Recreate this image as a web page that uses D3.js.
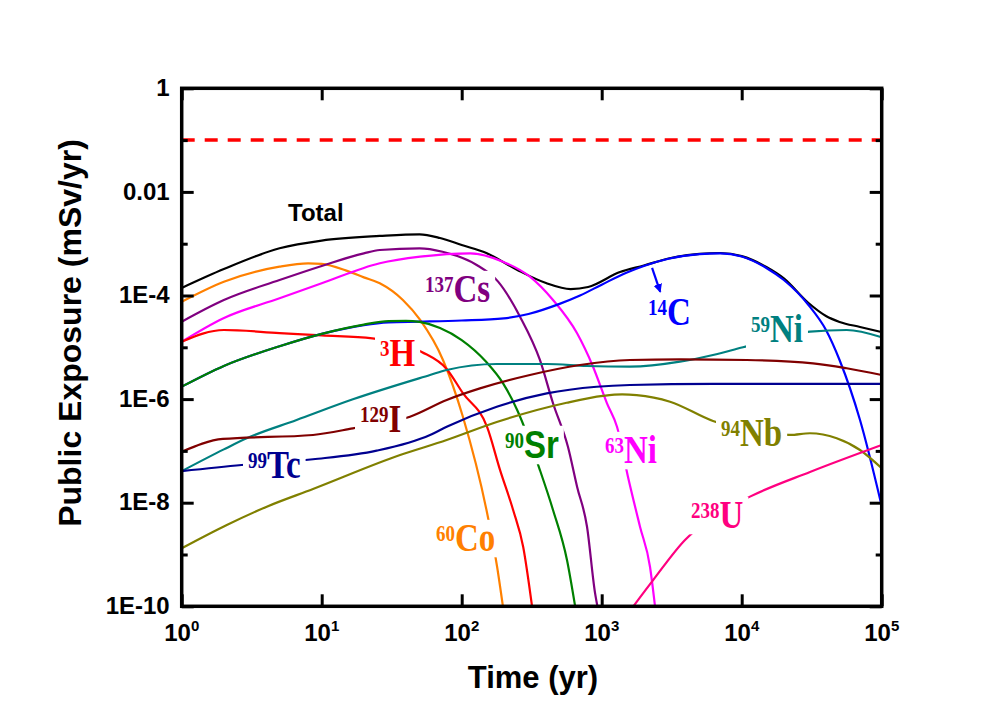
<!DOCTYPE html>
<html><head><meta charset="utf-8">
<script src="https://cdn.jsdelivr.net/npm/d3@7"></script>
<style>body{margin:0;background:#fff;} svg{display:block;}</style>
</head><body>
<svg id="chart" width="986" height="728"></svg>
<script>
// ---- data (time in yr, public exposure in mSv/yr) ----
const tTotal = [1,2,5,10,26,50,70,100,150,250,400,600,800,1350,2000,3000,5000,7000,1e4,1.5e4,2e4,3e4,4e4,5e4,7e4,1e5];
const vTotal = [1.40e-4,3.24e-4,8.15e-4,1.15e-3,1.41e-3,1.52e-3,1.29e-3,9.44e-4,6.61e-4,3.10e-4,1.74e-4,1.33e-4,1.46e-4,2.84e-4,3.80e-4,5.19e-4,6.38e-4,6.61e-4,5.75e-4,3.55e-4,2.14e-4,7.16e-5,4.02e-5,3.09e-5,2.47e-5,1.97e-5];

const tC14 = [1,2,5,10,20,30,50,100,200,300,500,700,1000,1500,2000,3000,5000,7000,1e4,1.5e4,2e4,3e4,4e4,5e4,7e4,1e5];
const vC14 = [1.74e-6,4.37e-6,1.05e-5,1.82e-5,2.69e-5,3.02e-5,3.12e-5,3.29e-5,3.63e-5,4.40e-5,6.9e-5,1.0e-4,1.62e-4,2.75e-4,3.72e-4,5.13e-4,6.31e-4,6.53e-4,5.66e-4,3.40e-4,1.99e-4,6.56e-5,2.16e-5,5.69e-6,3.95e-7,8.63e-9];

const tCs137 = [1,2,5,10,20,26,50,73,128,182,261,362,449,574,667,785,896,932];
const vCs137 = [3.12e-5,8.18e-5,1.99e-4,3.72e-4,6.52e-4,7.55e-4,8.15e-4,7.0e-4,3.88e-4,1.85e-4,3.90e-5,5.69e-6,8.32e-7,1.20e-7,2.04e-8,3.47e-9,1.82e-10,1.0e-10];

const tCo60 = [1,2,5,8,10,15,20,26,38,50.5,73.5,102,152,179,197];
const vCo60 = [7.59e-5,1.85e-4,3.60e-4,4.17e-4,4.07e-4,3.02e-4,2.24e-4,1.72e-4,8.18e-5,3.37e-5,5.69e-6,4.57e-7,6.24e-9,5.81e-10,1.0e-10];

const tH3 = [1,2,5,10,23,51.8,78.3,102,152,188,233,275,318];
const vH3 = [1.28e-5,2.16e-5,1.88e-5,1.70e-5,1.49e-5,8.13e-6,3.78e-6,1.30e-6,2.87e-7,4.25e-8,7.24e-9,1.40e-9,1.0e-10];

const tSr90 = [1,2,5,10,20,30,40,50,70,100,150,197,249,300,362,449,565,646];
const vSr90 = [1.74e-6,4.37e-6,1.05e-5,1.82e-5,2.75e-5,3.20e-5,3.24e-5,3.09e-5,2.36e-5,1.38e-5,5.20e-6,2.04e-6,6.17e-7,1.78e-7,4.27e-8,7.24e-9,7.83e-10,1.0e-10];

const tNi63 = [1,1.97,5,10,26,50.5,115,197,307,449,667,867,1091,1286,1540,1878,2213,2404];
const vNi63 = [1.28e-5,3.61e-5,8.83e-5,1.72e-4,4.19e-4,5.62e-4,6.53e-4,4.50e-4,2.31e-4,8.18e-5,1.86e-5,4.22e-6,8.30e-7,2.93e-7,3.18e-8,3.44e-9,5.81e-10,1.0e-10];

const tNi59 = [1,2,2.91,6.62,16.7,59.4,78.1,178,405,781,1592,3622,6237,10210,30740,56230,1e5];
const vNi59 = [4.07e-8,1.07e-7,1.75e-7,3.95e-7,9.91e-7,2.92e-6,3.65e-6,4.76e-6,4.76e-6,4.36e-6,4.22e-6,5.27e-6,7.10e-6,1.0e-5,2.0e-5,2.16e-5,1.56e-5];

const tI129 = [1,1.97,8.67,16.7,42.7,78.1,135,307,700,1592,3622,10860,32300,56230,1e5];
const vI129 = [9.64e-8,1.70e-7,2.03e-7,2.73e-7,4.57e-7,9.62e-7,1.61e-6,2.92e-6,4.55e-6,5.69e-6,5.86e-6,5.69e-6,4.91e-6,3.94e-6,2.92e-6];

const tTc99 = [1,2.68,8.67,24.7,59.4,78.1,178,405,921,1592,6237,1e5];
const vTc99 = [4.07e-8,5.35e-8,6.89e-8,1.01e-7,2.03e-7,2.93e-7,7.13e-7,1.29e-6,1.73e-6,1.87e-6,1.96e-6,1.96e-6];

const tNb94 = [1,2.1,4.05,8.67,36.3,78.1,178,562,1021,1400,1778,3076,6237,22130,30740,47700,70000,1e5];
const vNb94 = [1.32e-9,3.72e-9,8.38e-9,1.84e-8,8.32e-8,1.62e-7,3.61e-7,8.5e-7,1.15e-6,1.23e-6,1.19e-6,8.91e-7,3.78e-7,2.03e-7,2.19e-7,1.75e-7,1.04e-7,4.61e-8];

const tU238 = [1682,2337,3936,6000,11460,30740,1e5];
const vU238 = [1.0e-10,3.24e-10,1.91e-9,5.0e-9,1.31e-8,3.92e-8,1.30e-7];

const limitValue = 0.1;
const yMajorTicks = [1,1e-2,1e-4,1e-6,1e-8,1e-10];
const yMinorTicks = [1e-1,1e-3,1e-5,1e-7,1e-9];
const xTicks = [1,10,100,1000,1e4,1e5];
const xTickExp = ["0","1","2","3","4","5"];
const yTickLabels = ["1","0.01","1E-4","1E-6","1E-8","1E-10"];

const series = [
  {t:tTotal, v:vTotal, color:"#000000"},
  {t:tCo60, v:vCo60, color:"#FF8000"},
  {t:tCs137, v:vCs137, color:"#800080"},
  {t:tNi63, v:vNi63, color:"#FF00FF"},
  {t:tH3, v:vH3, color:"#FF0000"},
  {t:tC14, v:vC14, color:"#0000FF"},
  {t:tSr90, v:vSr90, color:"#008000"},
  {t:tNi59, v:vNi59, color:"#008080"},
  {t:tI129, v:vI129, color:"#800000"},
  {t:tTc99, v:vTc99, color:"#000090"},
  {t:tNb94, v:vNb94, color:"#808000"},
  {t:tU238, v:vU238, color:"#FF0080"}
];

// ---- layout ----
const L = 181.7, R = 881.7, T = 88.3, B = 606.3;
const svg = d3.select("#chart");
const x = d3.scaleLog().domain([1,1e5]).range([L,R]);
const y = d3.scaleLog().domain([1e-10,1]).range([B,T]);

svg.append("defs").append("clipPath").attr("id","plotclip")
  .append("rect").attr("x",L).attr("y",T).attr("width",R-L).attr("height",B-T);

const plot = svg.append("g").attr("clip-path","url(#plotclip)");

// limit line
plot.append("line").attr("x1",L).attr("x2",R).attr("y1",y(limitValue)).attr("y2",y(limitValue))
  .attr("stroke","#FF0000").attr("stroke-width",3.5).attr("stroke-dasharray","13,10");

const line = d3.line().x(d=>x(d[0])).y(d=>y(d[1])).curve(d3.curveMonotoneX);
series.forEach(s=>{
  const pts = s.t.map((t,i)=>[t,s.v[i]]);
  plot.append("path").datum(pts).attr("d",line).attr("fill","none")
    .attr("stroke",s.color).attr("stroke-width",2.2).attr("stroke-linejoin","round");
});

// ---- labels ----
const SERIF = "'Liberation Serif','Times New Roman',serif";
const SANS = "'Liberation Sans',Arial,sans-serif";
function addLabel(px, py, sup, main, color, mainFamily){
  const g = svg.append("g").attr("transform",`translate(${px},${py}) scale(1,1.2)`);
  const t = g.append("text").attr("font-weight","bold").attr("fill",color).attr("font-family",SERIF);
  t.append("tspan").attr("font-size",19).attr("dy",-8).text(sup);
  t.append("tspan").attr("font-size",33).attr("dy",8).attr("font-family",mainFamily||SERIF).text(main);
  const bb = t.node().getBBox();
  g.insert("rect","text").attr("x",bb.x-5).attr("y",bb.y+3).attr("width",bb.width+10).attr("height",bb.height-5).attr("fill","#fff");
}
addLabel(425,302,"137","Cs","#800080");
addLabel(648,325,"14","C","#0000FF");
addLabel(751,342,"59","Ni","#008080");
addLabel(380,366,"3","H","#FF0000");
addLabel(360,432,"129","I","#800000");
addLabel(248,478,"99","Tc","#000090");
addLabel(505,458,"90","Sr","#008000",SANS);
addLabel(605,463,"63","Ni","#FF00FF");
addLabel(721,446,"94","Nb","#808000");
addLabel(436,551,"60","Co","#FF8000");
addLabel(691,528,"238","U","#FF0080");

svg.append("text").attr("x",288).attr("y",221).attr("font-family",SANS).attr("font-weight","bold")
  .attr("font-size",24).attr("fill","#000").text("Total");

// arrow for 14C
const defs = svg.select("defs");
defs.append("marker").attr("id","arr").attr("viewBox","0 0 10 10").attr("refX",9).attr("refY",5)
  .attr("markerWidth",4).attr("markerHeight",4).attr("orient","auto")
  .append("path").attr("d","M0,0 L10,5 L0,10 z").attr("fill","#0000FF");
svg.append("line").attr("x1",x(2290)).attr("y1",y(3.4e-4)).attr("x2",x(2620)).attr("y2",y(1.17e-4))
  .attr("stroke","#0000FF").attr("stroke-width",2.2).attr("marker-end","url(#arr)");

// ---- axes ----
function styleAxis(g){ g.select(".domain").remove(); g.selectAll(".tick line").attr("stroke","#000").attr("stroke-width",3); }
svg.append("g").attr("transform",`translate(${L},0)`)
  .call(d3.axisLeft(y).tickValues(yMajorTicks).tickSize(-12).tickPadding(12).tickFormat((d,i)=>yTickLabels[i]))
  .call(styleAxis)
  .call(g=>g.selectAll("text").attr("font-family",SANS).attr("font-weight","bold").attr("font-size",24).attr("fill","#000").attr("dy","0.3em"));
svg.append("g").attr("transform",`translate(${L},0)`)
  .call(d3.axisLeft(y).tickValues(yMinorTicks).tickSize(-6).tickFormat("")).call(styleAxis);
svg.append("g").attr("transform",`translate(${R},0)`)
  .call(d3.axisRight(y).tickValues(yMajorTicks).tickSize(-12).tickFormat("")).call(styleAxis);
svg.append("g").attr("transform",`translate(${R},0)`)
  .call(d3.axisRight(y).tickValues(yMinorTicks).tickSize(-6).tickFormat("")).call(styleAxis);
svg.append("g").attr("transform",`translate(0,${B})`)
  .call(d3.axisBottom(x).tickValues(xTicks).tickSize(-12).tickFormat("")).call(styleAxis);
svg.append("g").attr("transform",`translate(0,${T})`)
  .call(d3.axisTop(x).tickValues(xTicks).tickSize(-12).tickFormat("")).call(styleAxis);

// x tick labels 10^n
xTicks.forEach((v,i)=>{
  const t = svg.append("text").attr("x",x(v)).attr("y",641).attr("text-anchor","middle")
    .attr("font-family",SANS).attr("font-weight","bold").attr("fill","#000");
  t.append("tspan").attr("font-size",24).text("10");
  t.append("tspan").attr("font-size",15).attr("dy",-10).text(xTickExp[i]);
});

// frame
svg.append("rect").attr("x",L).attr("y",T).attr("width",R-L).attr("height",B-T)
  .attr("fill","none").attr("stroke","#000").attr("stroke-width",3.5);

// axis titles
svg.append("text").attr("x",533).attr("y",688).attr("text-anchor","middle")
  .attr("font-family",SANS).attr("font-weight","bold").attr("font-size",31).attr("fill","#000").text("Time (yr)");
svg.append("text").attr("transform","translate(81,333) rotate(-90)").attr("text-anchor","middle")
  .attr("font-family",SANS).attr("font-weight","bold").attr("font-size",32).attr("fill","#000").text("Public Exposure (mSv/yr)");
</script>
</body></html>
